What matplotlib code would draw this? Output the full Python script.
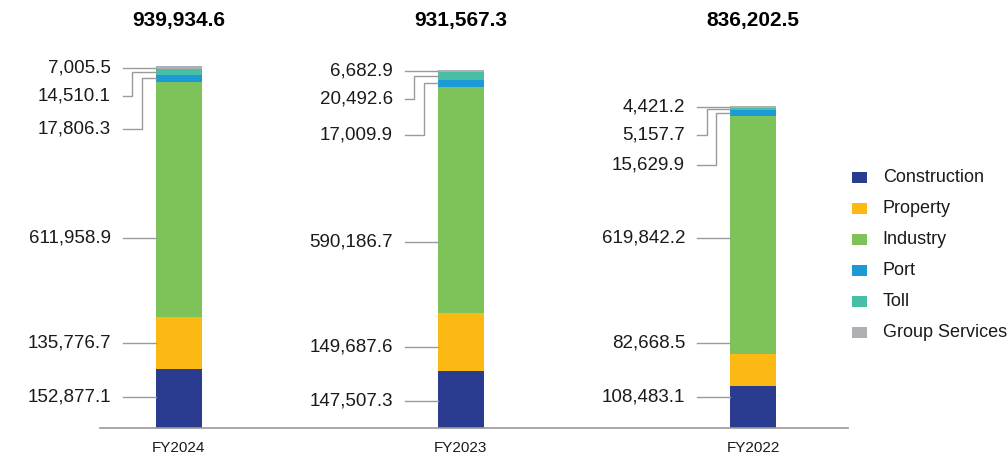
import matplotlib
matplotlib.use("Agg")
import matplotlib.pyplot as plt
from matplotlib.lines import Line2D
from matplotlib.patches import Rectangle
from matplotlib.transforms import IdentityTransform
import numpy as np

# ---- data -------------------------------------------------------------
years = ["FY2024", "FY2023", "FY2022"]
totals = [939934.6, 931567.3, 836202.5]
segments = ["Construction", "Property", "Industry", "Port", "Toll", "Group Services"]
construction = [152877.1, 147507.3, 108483.1]
property_ = [135776.7, 149687.6, 82668.5]
industry = [611958.9, 590186.7, 619842.2]
port = [17806.3, 17009.9, 15629.9]
toll = [14510.1, 20492.6, 5157.7]
group_services = [7005.5, 6682.9, 4421.2]

series = [construction, property_, industry, port, toll, group_services]
colors = ["#2a3c8f", "#fdb913", "#7ec35a", "#1c9ad6", "#48bfa4", "#adafb2"]

# ---- layout -----------------------------------------------------------
W, H, DPI = 1008, 461, 100
plt.rcParams["font.family"] = ["Liberation Sans", "DejaVu Sans"]
TXT = "#1a1a1a"
LEAD = "#9a9a9a"

fig = plt.figure(figsize=(W / DPI, H / DPI), dpi=DPI)
base_px = 427.5          # baseline, pixels from top
top_px = 66.5            # top of tallest bar
ax = fig.add_axes([100 / W, (H - base_px) / H, 748 / W, base_px / H])

# column positions (the middle column sits slightly left of centre)
x = np.array([0.0, 282 / 287, 2.0])
bar_w = 0.16
ax.set_xlim(-0.2746, 2.331)
ax.set_ylim(0, max(totals) * base_px / (base_px - top_px))

bottoms = np.zeros(len(years))
for vals, col in zip(series, colors):
    ax.bar(x, vals, bar_w, bottom=bottoms, color=col, linewidth=0)
    bottoms += np.array(vals)

for s in ("left", "top", "right"):
    ax.spines[s].set_visible(False)
ax.spines["bottom"].set_color("#999999")
ax.spines["bottom"].set_linewidth(1.2)
ax.set_yticks([])
ax.set_xticks(x)
ax.set_xticklabels(years, fontsize=11, color=TXT)
ax.tick_params(axis="x", length=0, pad=10)


def disp(xd, yd):
    return ax.transData.transform((xd, yd))


def line(xs, ys):
    fig.add_artist(Line2D(xs, ys, transform=IdentityTransform(),
                          color=LEAD, linewidth=1.0))


def label(xr, yd, s):
    fig.text(xr, yd, s, transform=IdentityTransform(), ha="right",
             va="center", fontsize=13.5, color=TXT)


# rows (pixels from top) used for the labels of the three large segments
big_rows = [397, 343, 237.5]
row_shift = [0, 4, 0]
small_gap = [28, 28, 28]
port_gap = [61, 64, 58]

for i in range(len(years)):
    bar_left = disp(x[i] - bar_w / 2, 0)[0]
    start = bar_left - 33
    text_end = start - 12

    # large segments: straight leaders
    for k in range(3):
        yd = H - (big_rows[k] + row_shift[i])
        line([start, bar_left], [yd, yd])
        label(text_end, yd, f"{series[k][i]:,.1f}")

    # small segments at the top: elbowed leaders
    cum = np.cumsum([s[i] for s in series])
    mids = [disp(0, cum[k] - series[k][i] / 2)[1] for k in range(6)]
    gs_y = mids[5]
    line([start, bar_left], [gs_y, gs_y])
    label(text_end, gs_y, f"{group_services[i]:,.1f}")

    toll_y = gs_y - small_gap[i]
    cx = start + 9.5
    line([start, cx, cx, bar_left], [toll_y, toll_y, mids[4], mids[4]])
    label(text_end, toll_y, f"{toll[i]:,.1f}")

    port_y = gs_y - port_gap[i]
    cx = start + 19
    line([start, cx, cx, bar_left], [port_y, port_y, mids[3], mids[3]])
    label(text_end, port_y, f"{port[i]:,.1f}")

    # total above each column
    cx_bar = disp(x[i], 0)[0]
    fig.text(cx_bar, H - 20, f"{totals[i]:,.1f}", transform=IdentityTransform(),
             ha="center", va="center", fontsize=15, fontweight="bold", color="black")

# ---- legend -----------------------------------------------------------
for k, (name, col) in enumerate(zip(segments, colors)):
    cy = H - (177.3 + 31 * k)
    fig.add_artist(Rectangle((852.3, cy - 5.3), 14.4, 10.6, transform=IdentityTransform(),
                             facecolor=col, edgecolor="none"))
    fig.text(882.7, cy, name, transform=IdentityTransform(), ha="left",
             va="center", fontsize=13, color=TXT)

fig.savefig("out.png", dpi=DPI)
